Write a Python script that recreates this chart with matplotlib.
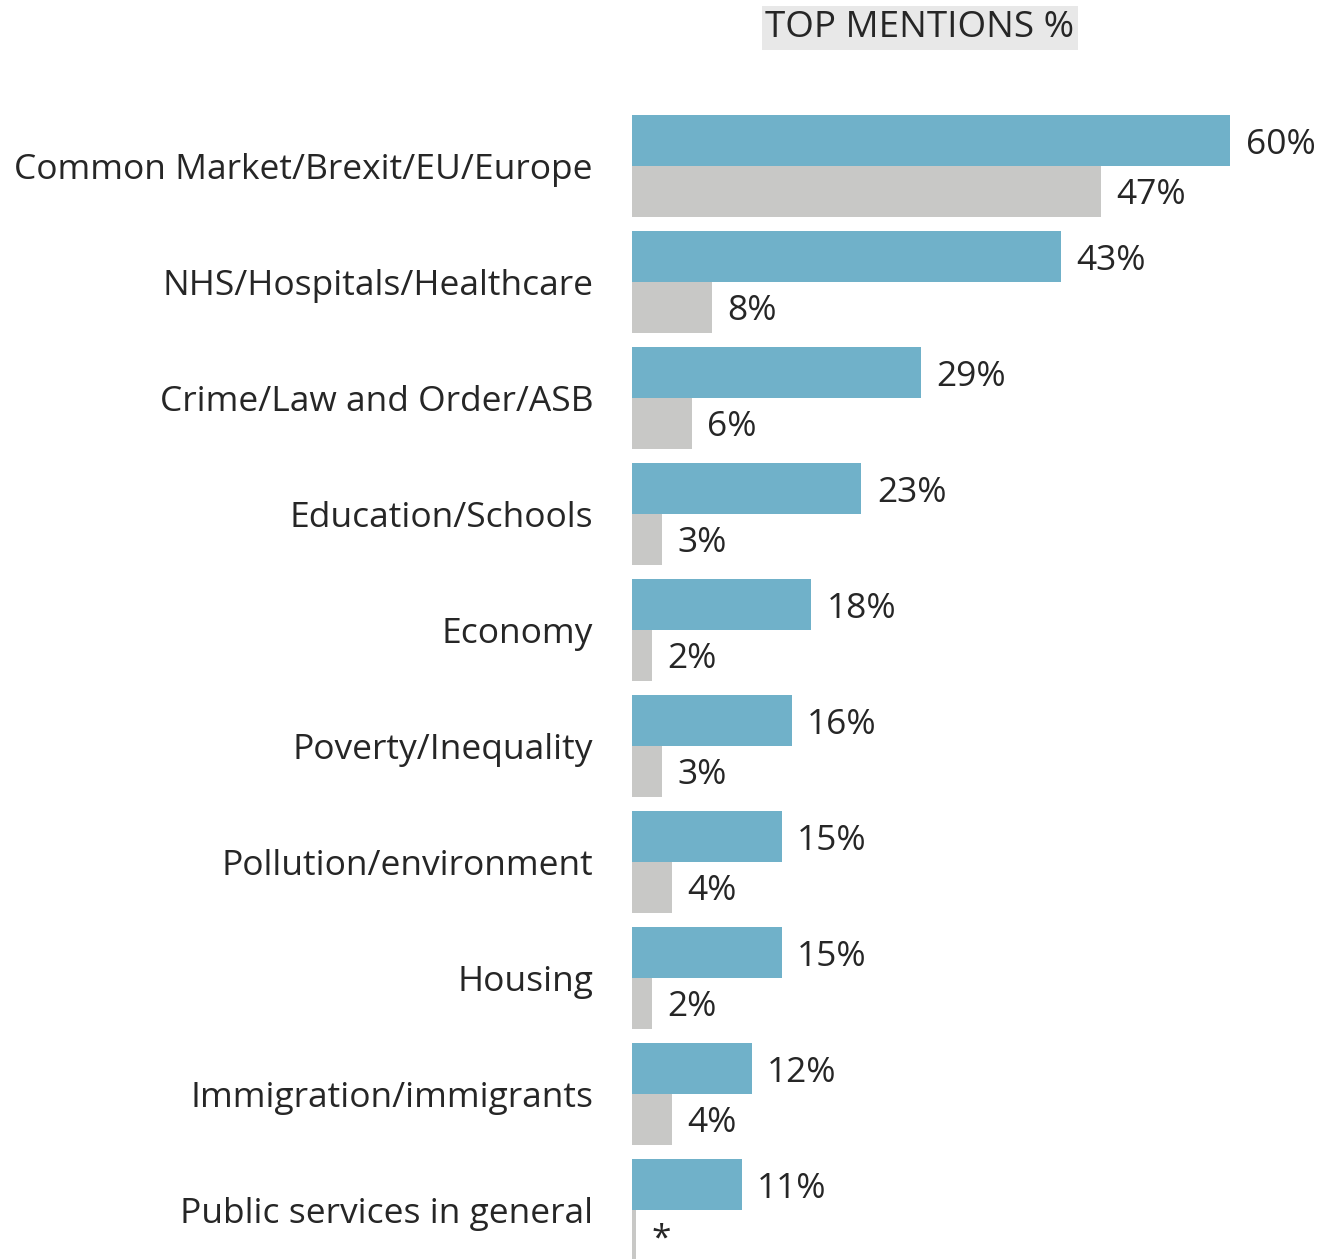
import numpy as np
import matplotlib
matplotlib.use('Agg')
from matplotlib import pyplot as plt

# data
categories = ['Common Market/Brexit/EU/Europe', 'NHS/Hospitals/Healthcare',
              'Crime/Law and Order/ASB', 'Education/Schools', 'Economy',
              'Poverty/Inequality', 'Pollution/environment', 'Housing',
              'Immigration/immigrants', 'Public services in general']
top_values = [60, 43, 29, 23, 18, 16, 15, 15, 12, 11]
grey_values = [47, 8, 6, 3, 2, 3, 4, 2, 4, 0.4]
grey_labels = ['47%', '8%', '6%', '3%', '2%', '3%', '4%', '2%', '4%', '*']

BLUE = '#70B1C9'
GREY = '#C8C8C6'
TXT = '#262626'

plt.rcParams['font.family'] = ['Open Sans', 'DejaVu Sans']

W, H = 1323, 1259
fig = plt.figure(figsize=(W / 100, H / 100), dpi=100)
left_px = 632
ax = fig.add_axes([left_px / W, 0, (W - left_px) / W, 1])

px_per_pct = 9.97
ax.set_xlim(0, (W - left_px) / px_per_pct)
pitch = 116
first_mid = 166
ax.set_ylim((H - first_mid) / pitch, -first_mid / pitch)
ax.axis('off')

y = np.arange(len(categories))
bh = 51 / pitch
ax.barh(y - bh / 2, top_values, height=bh, color=BLUE, edgecolor='none')
ax.barh(y + bh / 2, grey_values, height=bh, color=GREY, edgecolor='none')

fs = 25.5
dy = 4 / pitch  # text sits a touch below the bar centre
for i in range(len(categories)):
    ax.text(top_values[i] + 1.55, y[i] - bh / 2 + dy, f'{top_values[i]}%',
            va='center', ha='left', fontsize=fs, color=TXT)
    ax.text(grey_values[i] + 1.55, y[i] + bh / 2 + dy, grey_labels[i],
            va='center', ha='left', fontsize=fs, color=TXT)
    ax.text(-39 / px_per_pct, y[i] + dy, categories[i], va='center', ha='right',
            fontsize=fs, color=TXT, clip_on=False)

fig.text(920 / W, 1 - 28 / H, 'TOP MENTIONS %', ha='center', va='center',
         fontsize=26.5, color=TXT,
         bbox=dict(boxstyle='square,pad=0.1', facecolor='#E8E8E8', edgecolor='none'))

fig.savefig('out.png', dpi=100)
